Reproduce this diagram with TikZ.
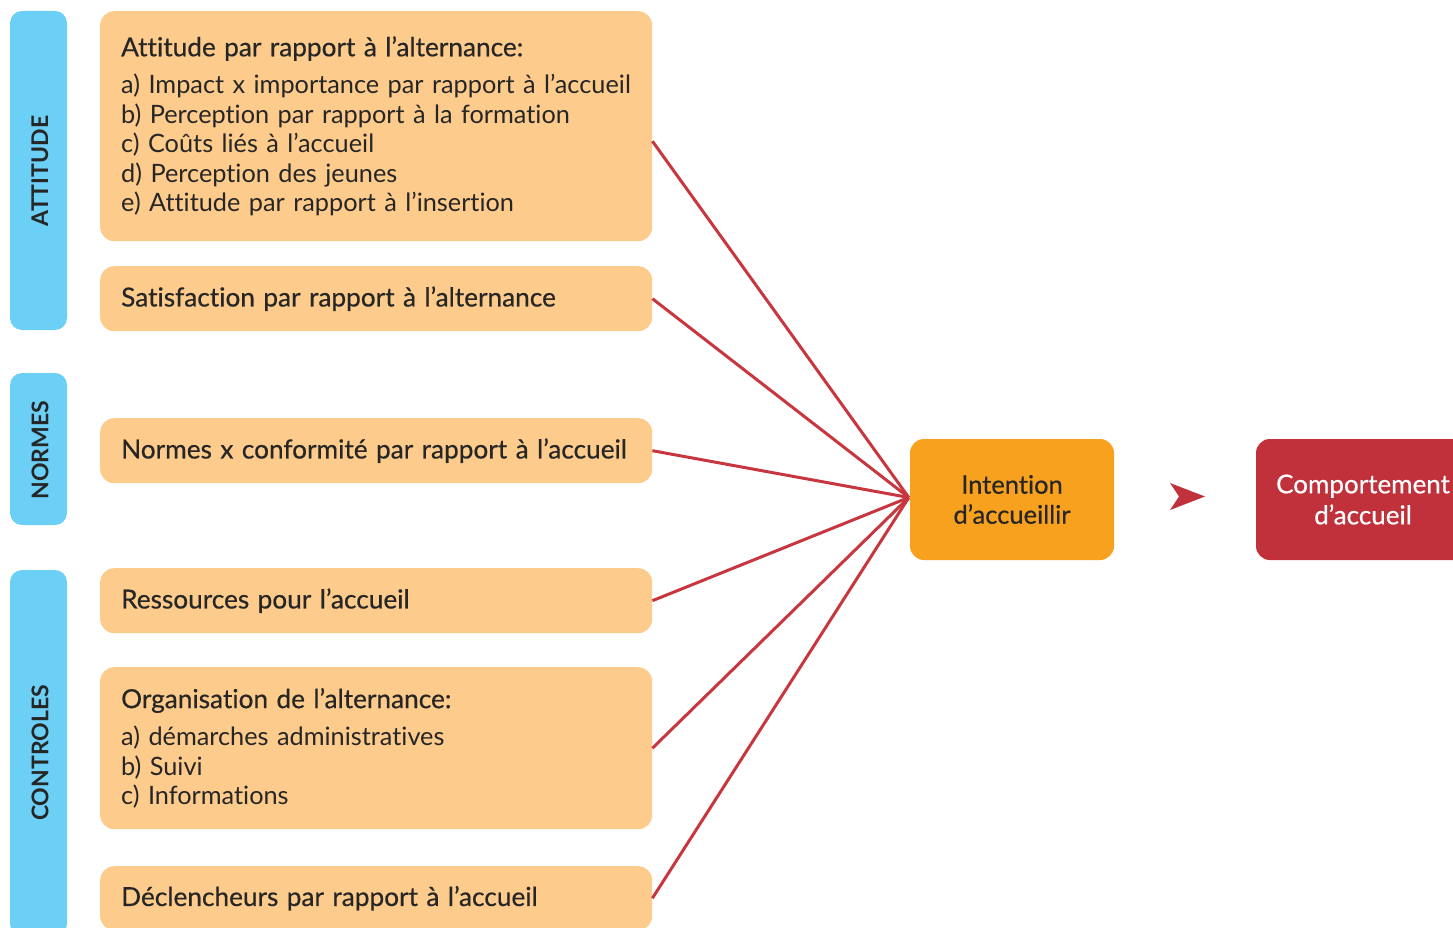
\documentclass[tikz,border=0pt]{standalone}
\usepackage{fontspec}
\setmainfont{Lato}[Ligatures=NoCommon]
\newfontfamily\medfont{Lato}[FakeBold=0.5,Ligatures=NoCommon]
\definecolor{barblue}{HTML}{6CCFF6}
\definecolor{boxorange}{HTML}{FDCB8B}
\definecolor{intorange}{HTML}{F7A11F}
\definecolor{compred}{HTML}{C1313B}
\definecolor{linered}{HTML}{C8363F}
\definecolor{txt}{HTML}{262626}
\tikzset{
  bar/.style={fill=barblue, rounded corners=12pt, draw=none},
  barlabel/.style={rotate=90, font=\fontsize{23}{26}\selectfont\bfseries, text=txt},
  obox/.style={fill=boxorange, rounded corners=14pt, draw=none, anchor=north west,
    minimum width=552pt, inner xsep=21pt, text width=510pt, align=left, text=txt,
    font=\fontsize{25.3}{29.5}\selectfont},
  link/.style={draw=linered, line width=3pt},
}
\newcommand{\ttl}[1]{{\medfont\fontsize{26.2}{29.5}\selectfont #1}}
\begin{document}
\begin{tikzpicture}[x=1pt,y=-1pt]
\clip (0,0) rectangle (1453,928);
\useasboundingbox (0,0) rectangle (1453,928);
% category bars
\draw[bar] (10,11) rectangle (67,330);
\draw[bar] (10,373) rectangle (67,525);
\draw[bar] (10,570) rectangle (67,936);
\node[barlabel] (lA) at (40,171) {ATTITUDE};
\node[barlabel] (lN) at (40,450) {NORMES};
\node[barlabel] (lC) at (40,753) {CONTROLES};
% factor boxes
\node[obox, minimum height=230pt] (b1) at (100,11) {\ttl{Attitude par rapport à l’alternance:}\\[8pt]
a) Impact x importance par rapport à l’accueil\\
b) Perception par rapport à la formation\\
c) Coûts liés à l’accueil\\
d) Perception des jeunes\\
e) Attitude par rapport à l’insertion};
\node[obox, minimum height=65pt] (b2) at (100,266) {\ttl{Satisfaction par rapport à l’alternance}};
\node[obox, minimum height=65pt] (b3) at (100,418) {\ttl{Normes x conformité par rapport à l’accueil}};
\node[obox, minimum height=65pt] (b4) at (100,568) {\ttl{Ressources pour l’accueil}};
\node[obox, minimum height=162pt] (b5) at (100,667) {\ttl{Organisation de l’alternance:}\\[8pt]
a) démarches administratives\\
b) Suivi\\
c) Informations};
\node[obox, minimum height=64pt] (b6) at (100,866) {\ttl{Déclencheurs par rapport à l’accueil}};
% intention & behaviour
\node[fill=intorange, rounded corners=14pt, minimum width=204pt, minimum height=121pt,
  align=center, text=txt, font=\fontsize{25.5}{30}\selectfont\medfont] (int) at (1012,499.5)
  {Intention\\d’accueillir};
\node[fill=compred, rounded corners=14pt, minimum width=214pt, minimum height=121pt,
  align=center, text=white, font=\fontsize{26}{31}\selectfont\medfont] (comp) at (1363,499.5)
  {Comportement\\d’accueil};
% connectors
\coordinate (hub) at ([xshift=-1pt,yshift=2pt]int.west);
\draw[link] ([yshift=-15pt]b1.east) -- (hub);
\draw[link] (b2.east) -- (hub);
\draw[link] (b3.east) -- (hub);
\draw[link] (b4.east) -- (hub);
\draw[link] (b5.east) -- (hub);
\draw[link] (b6.east) -- (hub);
% arrow head
\fill[compred] (1170,483) -- (1205,496.5) -- (1170,510) -- (1179,496.5) -- cycle;
\end{tikzpicture}
\end{document}
